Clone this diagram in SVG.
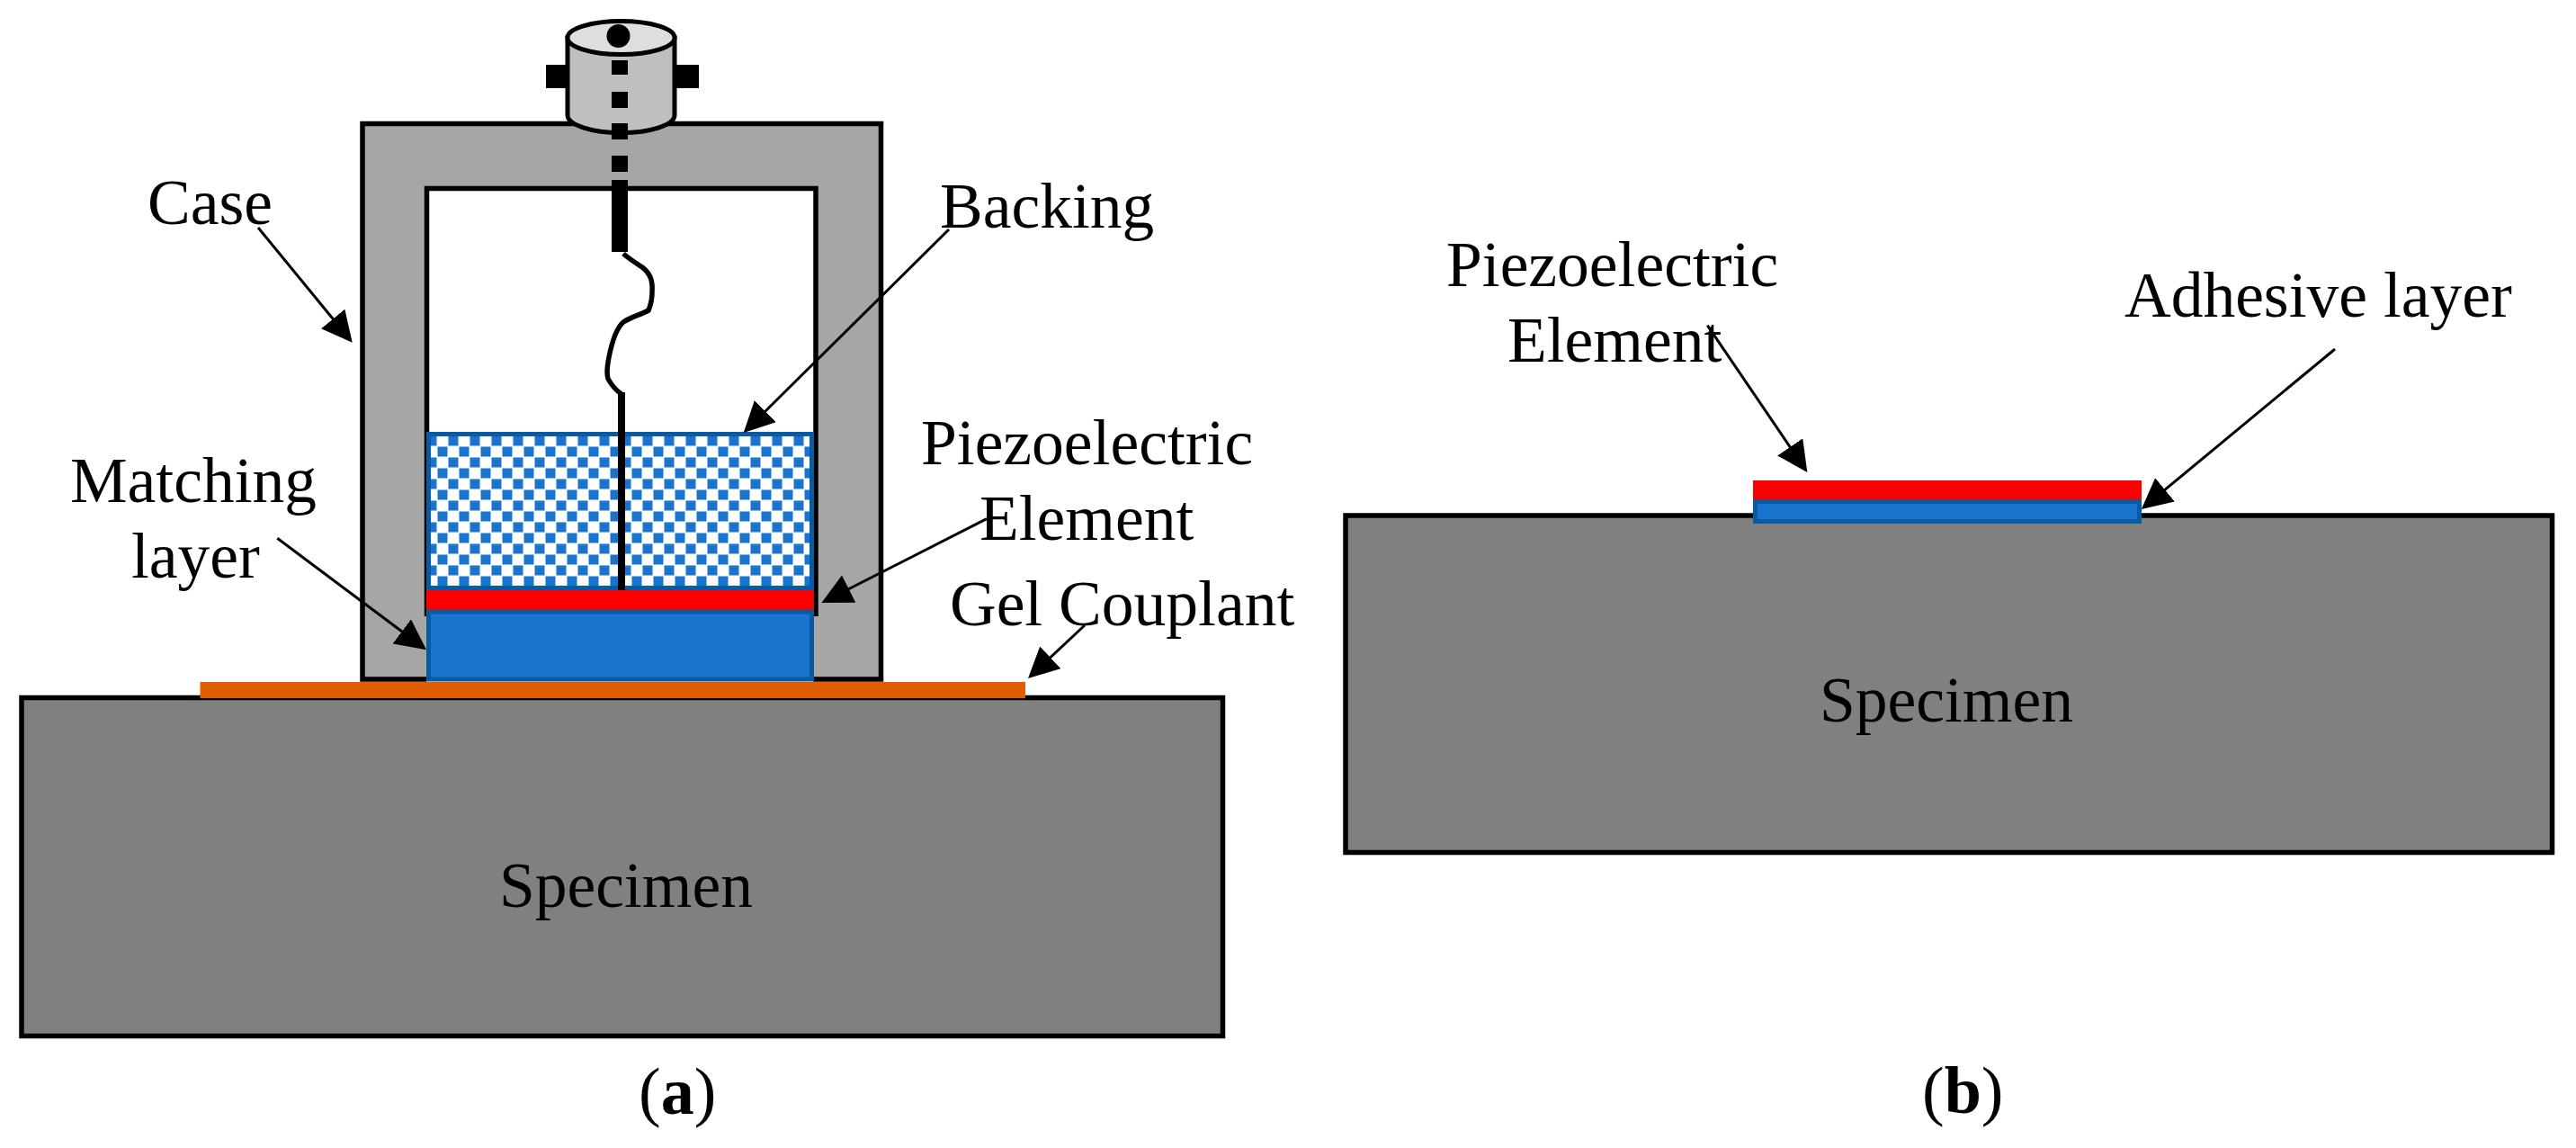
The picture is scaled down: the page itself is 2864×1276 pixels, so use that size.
<svg xmlns="http://www.w3.org/2000/svg" width="2864" height="1276" viewBox="0 0 2864 1276">
<style>
text{font-family:"Liberation Serif","Times New Roman",serif;font-size:71.5px;fill:#000}
.spec{fill:#808080;stroke:#000;stroke-width:5.5}
.blue{fill:#1874cd;stroke:#0a5aa2;stroke-width:5}
.red{fill:#f00}
.k{fill:none;stroke:#000;stroke-width:5.5}
.arrow{fill:none;stroke:#000;stroke-width:3;marker-end:url(#head)}
.sq{fill:#000}
.cap{font-size:74px}
.cap tspan{font-weight:bold}
</style>
<defs>
<marker id="head" markerUnits="userSpaceOnUse" markerWidth="36" markerHeight="36" refX="24" refY="17" orient="auto"><path d="M0,0L34,17L0,34Z" fill="#000"/></marker>
<pattern id="check" patternUnits="userSpaceOnUse" x="498" y="484" width="24" height="24"><rect width="24" height="24" fill="#fff"/><rect x="0.5" y="0.5" width="11" height="11" fill="#1874cd"/><rect x="12.5" y="12.5" width="11" height="11" fill="#1874cd"/></pattern>
</defs>
<rect width="2864" height="1276" fill="#fff"/>
<g id="specimen-a"><rect class="spec" x="24" y="775.5" width="1335.5" height="376"/><text x="555" y="1008">Specimen</text></g>
<g id="couplant"><rect x="222.5" y="758" width="917.5" height="18" fill="#e05e00"/></g>
<g id="case">
<path d="M403,755V137.5H979.5V755H907V209.5H474.5V755Z" fill="#a6a6a6"/>
<rect x="474" y="678" width="433" height="77" fill="#a6a6a6"/>
<path class="k" d="M474,755H403V137.5H979.5V755H904"/>
<path class="k" d="M474.5,685V209.5H907V685"/>
</g>
<g id="backing"><rect x="476.5" y="482.5" width="426" height="171" fill="url(#check)" stroke="#0a5aa2" stroke-width="5"/></g>
<g id="piezo-a"><rect class="red" x="474" y="656" width="430.5" height="22"/></g>
<g id="matching"><rect class="blue" x="476.5" y="680" width="426" height="75"/></g>
<g id="sensor">
<path d="M631,42V128A59.5,19.5 0 0 0 750,128V42Z" fill="#bfbfbf" stroke="#000" stroke-width="5"/>
<ellipse cx="690.5" cy="42" rx="59.5" ry="18.5" fill="#dedede" stroke="#000" stroke-width="5"/>
<circle cx="687.5" cy="40" r="13" fill="#000"/>
<rect class="sq" x="607" y="72" width="26" height="26"/>
<rect class="sq" x="750" y="72" width="27" height="26"/>
<rect class="sq" x="680" y="67" width="18" height="16"/>
<rect class="sq" x="680" y="102" width="18" height="18"/>
<rect class="sq" x="680" y="137" width="18" height="18"/>
<rect class="sq" x="680" y="173" width="18" height="18"/>
<rect class="sq" x="680" y="200" width="18" height="80"/>
</g>
<g id="wire">
<path d="M693,282C700,288 708,293 714,297C723,304 726,312 725,325C725,333 723,340 721,345C712,350 702,352 693,358C685,365 680,382 677,397C675,407 674,415 676,421C680,428 685,434 691,438" fill="none" stroke="#000" stroke-width="5.5"/>
<rect class="sq" x="687" y="436" width="8" height="220"/>
</g>
<g id="specimen-b"><rect class="spec" x="1496" y="573" width="1341.5" height="374.5"/><text x="2023" y="802">Specimen</text></g>
<g id="piezo-b"><rect class="red" x="1949" y="534" width="432" height="21.5"/></g>
<g id="adhesive"><rect class="blue" x="1951.5" y="557.5" width="427" height="22"/></g>
<g id="connectors">
<path class="arrow" d="M287,253L385.4,373"/>
<path class="arrow" d="M1055,255L833.8,474"/>
<path class="arrow" d="M1097,576.7L922.3,665.5"/>
<path class="arrow" d="M308.3,598.3L466,716.3"/>
<path class="arrow" d="M1206,695L1150.3,747.2"/>
<path class="arrow" d="M1898.3,361.7L2003.7,516.7"/>
<path class="arrow" d="M2596,388L2388.5,559.6"/>
</g>
<g id="labels">
<text x="164" y="249">Case</text>
<text x="1045" y="253">Backing</text>
<text x="78" y="558">Matching</text>
<text x="146" y="642">layer</text>
<text x="1024" y="516">Piezoelectric</text>
<text x="1089" y="600">Element</text>
<text x="1056" y="695">Gel Couplant</text>
<text x="1608" y="318">Piezoelectric</text>
<text x="1676" y="402">Element</text>
<text x="2362" y="352">Adhesive layer</text>
<text class="cap" x="710" y="1238">(<tspan>a</tspan>)</text>
<text class="cap" x="2137" y="1237">(<tspan>b</tspan>)</text>
</g>
</svg>
